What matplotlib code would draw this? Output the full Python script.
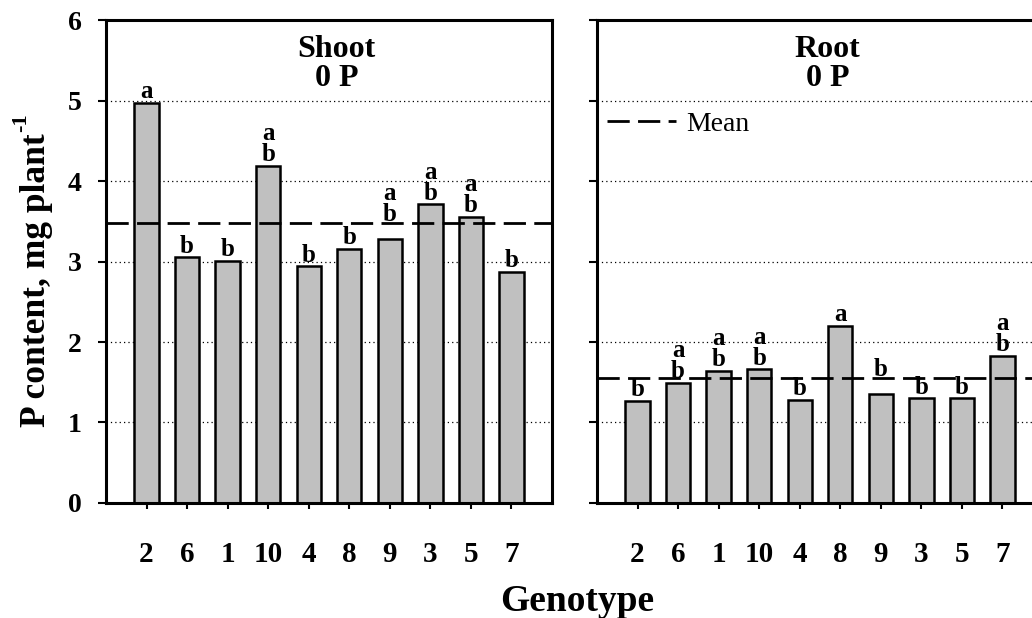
import matplotlib
matplotlib.use('Agg')
import matplotlib.pyplot as plt

genotypes = ['2', '6', '1', '10', '4', '8', '9', '3', '5', '7']

shoot = [4.97, 3.05, 3.01, 4.19, 2.94, 3.16, 3.28, 3.71, 3.55, 2.87]
shoot_letters = ['a', 'b', 'b', 'ab', 'b', 'b', 'ab', 'ab', 'ab', 'b']
shoot_mean = 3.48

root = [1.27, 1.49, 1.64, 1.66, 1.28, 2.20, 1.36, 1.30, 1.30, 1.83]
root_letters = ['b', 'ab', 'ab', 'ab', 'b', 'a', 'b', 'b', 'b', 'ab']
root_mean = 1.55

plt.rcParams['font.family'] = ['Liberation Serif', 'DejaVu Serif']

fig = plt.figure(figsize=(10.32, 6.18), dpi=100)
ax1 = fig.add_axes([0.1027, 0.1861, 0.4322, 0.7815])
ax2 = fig.add_axes([0.5785, 0.1861, 0.4322, 0.7815])

panels = [(ax1, shoot, shoot_letters, shoot_mean, 'Shoot\n0 P'),
          (ax2, root, root_letters, root_mean, 'Root\n0 P')]

# genotype 9 labels sit a little higher so they clear the mean line
lift = {'9': 0.16}

for ax, vals, letters, mean, title in panels:
    x = range(len(genotypes))
    ax.bar(x, vals, width=0.6, color='#c0c0c0', edgecolor='black',
           linewidth=1.8, zorder=2)
    ax.hlines(mean, -1, 10, colors='black', linewidth=2,
              linestyles=(0, (8, 3)), zorder=3, label='Mean')
    for i, (v, lab) in enumerate(zip(vals, letters)):
        base = v + 0.06 + lift.get(genotypes[i], 0)
        for k, ch in enumerate(reversed(lab)):
            ax.text(i, base + k * 0.26, ch, ha='center', va='baseline',
                    fontsize=18, fontweight='bold', zorder=4)
    ax.text(4.68, 5.82, title, ha='center', va='top', fontsize=23,
            fontweight='bold', linespacing=1.0)
    ax.set_xlim(-1, 10)
    ax.set_ylim(0, 6)
    ax.set_xticks(list(x))
    ax.set_yticks(range(7))
    for gy in range(1, 6):
        ax.axhline(gy, color='black', linewidth=0.9,
                   linestyle=(0, (1, 2.5)), zorder=1)
    for s in ax.spines.values():
        s.set_linewidth(2.2)
    ax.tick_params(axis='x', direction='out', length=4.5, width=1.5, pad=23,
                   labelsize=21)
    ax.tick_params(axis='y', direction='out', length=5.8, width=1.5, pad=11.5,
                   labelsize=20)

ax1.set_xticklabels(genotypes, fontweight='bold')
ax1.set_yticklabels([str(v) for v in range(7)], fontweight='bold')
ax2.set_xticklabels(genotypes, fontweight='bold')
ax2.set_yticklabels([])

ax2.legend(loc='center left', bbox_to_anchor=(0.022, 0.785), frameon=False,
           fontsize=20, handlelength=2.5, handletextpad=0.36,
           borderpad=0, borderaxespad=0)

# y label with a plain "-1" superscript placed after the main text
ylab = fig.text(0.0436, 0.309, 'P content, mg plant', rotation=90,
                rotation_mode='anchor', ha='left', va='baseline',
                fontsize=25.5, fontweight='bold')
r = fig.canvas.get_renderer()
top = ylab.get_window_extent(r).y1 / fig.bbox.height
fig.text(0.0252, top + 0.002, '-1', rotation=90, rotation_mode='anchor',
         ha='left', va='baseline', fontsize=16, fontweight='bold')

fig.text(0.559, 0.011, 'Genotype', ha='center', va='baseline',
         fontsize=27, fontweight='bold')

fig.savefig('out.png', dpi=100)
